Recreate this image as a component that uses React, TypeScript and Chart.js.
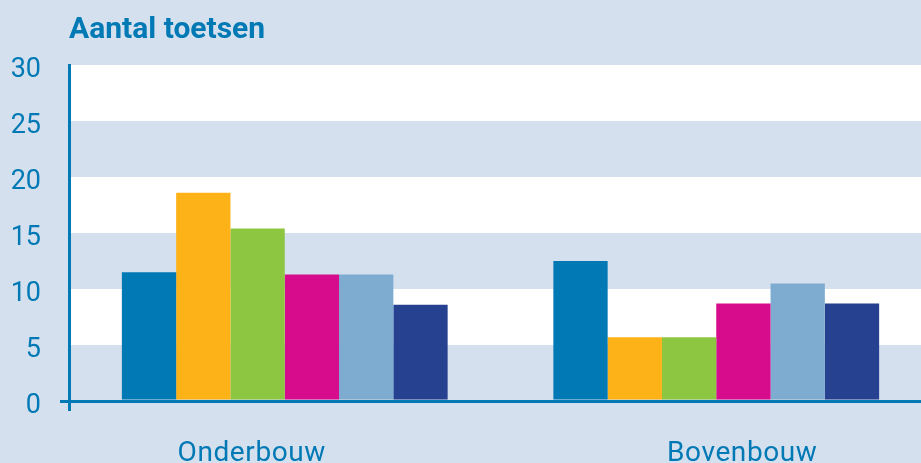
import React, { useEffect, useRef } from "react";
import { Chart, registerables } from "chart.js";

Chart.register(...registerables);

const categories = ["Onderbouw", "Bovenbouw"];
const seriesNames = ["Reeks 1", "Reeks 2", "Reeks 3", "Reeks 4", "Reeks 5", "Reeks 6"];
const series1 = [11.5, 12.5];
const series2 = [18.6, 5.7];
const series3 = [15.4, 5.7];
const series4 = [11.3, 8.7];
const series5 = [11.3, 10.5];
const series6 = [8.6, 8.7];
const seriesColors = ["#0079b5", "#fdb218", "#8dc641", "#d70c8c", "#7eabd0", "#25418f"];
const titleText = "Aantal toetsen";
const yMin = 0;
const yMax = 30;
const yStep = 5;
const whiteBands = [[5, 10], [15, 20], [25, 30]];

const BLUE = "#0079b4";
const BG = "#d5e0ee";
const LABEL_SHIFT = [-33, 26];

const bandPlugin = {
  id: "bands",
  beforeDraw(chart: any) {
    const { ctx, chartArea, scales } = chart;
    ctx.save();
    ctx.fillStyle = BG;
    ctx.fillRect(0, 0, chart.width, chart.height);
    ctx.fillStyle = "#ffffff";
    for (const [a, b] of whiteBands) {
      const y1 = scales.y.getPixelForValue(b);
      const y2 = scales.y.getPixelForValue(a);
      ctx.fillRect(chartArea.left, y1, chart.width - chartArea.left, y2 - y1);
    }
    ctx.restore();
  },
};

const catLabelPlugin = {
  id: "catLabels",
  afterDraw(chart: any) {
    const { ctx, chartArea, scales } = chart;
    ctx.save();
    ctx.fillStyle = BLUE;
    ctx.font = "28px Roboto";
    ctx.textAlign = "center";
    ctx.textBaseline = "alphabetic";
    try {
      (ctx as any).letterSpacing = "0.6px";
    } catch (e) {}
    categories.forEach((c, i) => {
      const x = scales.x.getPixelForValue(i) + LABEL_SHIFT[i];
      ctx.fillText(c, x, chartArea.bottom + 60);
    });
    ctx.restore();
  },
};

export default function App() {
  const ref = useRef<HTMLCanvasElement | null>(null);
  useEffect(() => {
    document.body.style.margin = "0";
    const data = [series1, series2, series3, series4, series5, series6];
    const chart = new Chart(ref.current as HTMLCanvasElement, {
      type: "bar",
      data: {
        labels: categories,
        datasets: data.map((d, i) => ({
          label: seriesNames[i],
          data: d,
          backgroundColor: seriesColors[i],
          borderWidth: 0,
          barPercentage: 1,
          categoryPercentage: 0.755,
        })),
      },
      plugins: [bandPlugin, catLabelPlugin],
      options: {
        responsive: false,
        devicePixelRatio: 1,
        animation: false,
        layout: { padding: { left: 0, right: 8, top: 0, bottom: 0 } },
        plugins: {
          legend: { display: false },
          tooltip: { enabled: false },
          title: {
            display: true,
            text: titleText,
            align: "start",
            fullSize: false,
            color: BLUE,
            font: { family: "Roboto", size: 30, weight: "bold" },
            padding: { top: 12, bottom: 17 },
          },
        },
        scales: {
          x: {
            type: "category",
            offset: true,
            grid: {
              display: true,
              offset: true,
              drawOnChartArea: false,
              drawTicks: true,
              tickLength: 10,
              lineWidth: 3,
              color: (ctx: any) => (ctx.index === 0 ? BLUE : "rgba(0,0,0,0)"),
            },
            border: { display: true, color: BLUE, width: 3 },
            ticks: { display: false },
            afterFit: (scale: any) => {
              scale.height = 62;
            },
          },
          y: {
            min: yMin,
            max: yMax,
            grid: {
              display: true,
              drawOnChartArea: false,
              drawTicks: true,
              tickLength: 9,
              lineWidth: 3,
              color: (ctx: any) => (ctx.tick && ctx.tick.value === 0 ? BLUE : "rgba(0,0,0,0)"),
            },
            border: { display: true, color: BLUE, width: 3 },
            ticks: {
              stepSize: yStep,
              color: BLUE,
              padding: 19,
              labelOffset: 5,
              font: { family: "Roboto", size: 27 },
            },
            afterFit: (scale: any) => {
              scale.width = 69;
            },
          },
        },
      },
    });
    return () => chart.destroy();
  }, []);
  return (
    <div
      style={{
        position: "fixed",
        left: 0,
        top: 0,
        width: 921,
        height: 463,
        overflow: "hidden",
        background: BG,
      }}
    >
      <canvas ref={ref} width={940} height={463} style={{ display: "block" }} />
    </div>
  );
}
